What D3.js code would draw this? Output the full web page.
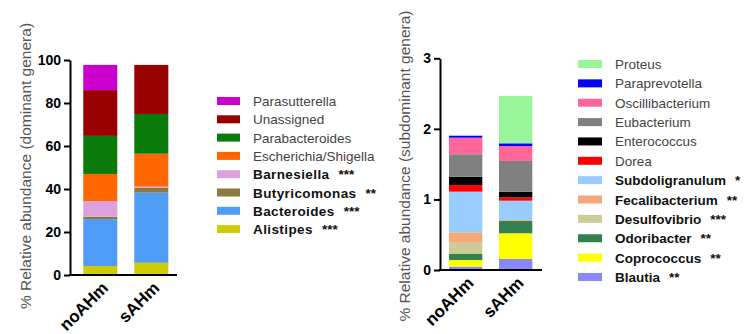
<!DOCTYPE html>
<html><head><meta charset="utf-8">
<script src="https://cdn.jsdelivr.net/npm/d3@7"></script>
<style>
body{margin:0;background:#fff;}
svg{display:block;font-family:"Liberation Sans",Arial,sans-serif;}
</style></head>
<body><svg id="c" width="750" height="334"></svg>
<script>
// ---- data ----
const categories = ["noAHm", "sAHm"];

// dominant genera, stacking order bottom -> top
const domGenera = ["Alistipes","Bacteroides","Butyricomonas","Barnesiella","Escherichia/Shigella","Parabacteroides","Unassigned","Parasutterella"];
const domNoAHm  = [4.2, 21.8, 1.1, 7.3, 12.6, 17.7, 21.3, 11.7];
const domSAHm   = [5.7, 32.6, 2.2, 0.6, 15.3, 18.5, 22.8, 0];
const domColors = ["#cccc00","#4f9cf7","#8c7a3c","#dda0dd","#ff6600","#0a7a0a","#990000","#cc00cc"];
const domStars  = ["***","***","**","***","","","",""];
const domTicks  = [0, 20, 40, 60, 80, 100];

// subdominant genera, stacking order bottom -> top
const subGenera = ["Blautia","Coprococcus","Odoribacter","Desulfovibrio","Fecalibacterium","Subdoligranulum","Dorea","Enterococcus","Eubacterium","Oscillibacterium","Paraprevotella","Proteus"];
const subNoAHm  = [0.047, 0.095, 0.085, 0.160, 0.147, 0.576, 0.094, 0.118, 0.318, 0.235, 0.028, 0];
const subSAHm   = [0.156, 0.364, 0.174, 0, 0.014, 0.274, 0.048, 0.080, 0.435, 0.212, 0.038, 0.671];
const subColors = ["#8888ff","#ffff00","#338050","#cccc99","#f2a878","#99ccff","#ff0000","#000000","#808080","#ff6699","#0000ff","#99f599"];
const subStars  = ["**","**","**","***","**","*","","","","","",""];
const subTicks  = [0, 1, 2, 3];

const yLabelDom = "% Relative abundance (dominant genera)";
const yLabelSub = "% Relative abundance (subdominant genera)";

const svg = d3.select("#c");

function panel(opt){
  const g = svg.append("g");
  const rows = categories.map((c,i)=>{
    const r = {cat:c};
    opt.genera.forEach((gname,j)=>{ r[gname] = opt.values[i][j]; });
    return r;
  });
  const stack = d3.stack().keys(opt.genera)(rows);
  const x = d3.scaleBand().domain(categories).range(opt.xRange).paddingInner(1/3).paddingOuter(opt.outer);
  const y = d3.scaleLinear().domain(opt.yDomain).range(opt.yRange);
  const color = d3.scaleOrdinal().domain(opt.genera).range(opt.colors);

  g.selectAll("g.layer").data(stack).join("g").attr("class","layer")
    .attr("fill", d=>color(d.key))
    .selectAll("rect").data(d=>d).join("rect")
    .attr("x", d=>x(d.data.cat))
    .attr("width", x.bandwidth())
    .attr("y", d=>y(d[1]))
    .attr("height", d=>Math.max(0, y(d[0]) - y(d[1])));

  // y axis
  const ya = g.append("g").attr("transform",`translate(${opt.axisX},0)`)
    .call(d3.axisLeft(y).tickValues(opt.ticks).tickSize(6).tickSizeOuter(0).tickPadding(3).tickFormat(d3.format("d")));
  ya.select(".domain").attr("stroke","#000").attr("stroke-width",2);
  ya.selectAll(".tick line").attr("stroke","#000").attr("stroke-width",2);
  ya.selectAll(".tick text").attr("font-size",14).attr("font-weight","bold").attr("fill","#000")
    .attr("font-family","'Liberation Sans',Arial,sans-serif");

  // x axis baseline
  g.append("line").attr("x1",opt.axisX-1).attr("x2",x.range()[1])
    .attr("y1",y(0)).attr("y2",y(0)).attr("stroke","#000").attr("stroke-width",2);

  // x labels
  g.selectAll("text.xl").data(categories).join("text").attr("class","xl")
    .attr("transform", d=>`translate(${x(d)+x.bandwidth()/2+9},${y(0)+14}) rotate(-45)`)
    .attr("text-anchor","end").attr("font-size",17).attr("font-weight","bold").attr("fill","#000")
    .text(d=>d);

  // y label
  g.append("text").attr("transform",`translate(${opt.labelX},166) rotate(-90)`)
    .attr("text-anchor","middle").attr("font-size",15.5).attr("fill","#555").text(opt.yLabel);

  // legend (top = last stacked)
  const leg = g.append("g");
  const items = opt.genera.map((gname,j)=>({name:gname,color:opt.colors[j],stars:opt.stars[j]})).reverse();
  const li = leg.selectAll("g").data(items).join("g")
    .attr("transform",(d,i)=>`translate(${opt.legX},${opt.legY0 + i*opt.legStep})`);
  li.append("rect").attr("x",0).attr("y",-4).attr("width",opt.swW).attr("height",8).attr("fill",d=>d.color);
  const t = li.append("text").attr("x",opt.textX).attr("y",5)
    .attr("font-size",13.5)
    .attr("font-weight",d=>d.stars?"bold":"normal")
    .attr("fill",d=>d.stars?"#111":"#444")
    .attr("letter-spacing",d=>d.stars?opt.boldLS:0);
  t.append("tspan").text(d=>d.name);
  t.append("tspan").attr("dx",9).attr("letter-spacing",0).text(d=>d.stars);
}

panel({genera:domGenera, values:[domNoAHm, domSAHm], colors:domColors, stars:domStars,
  xRange:[74.6,177], outer:0.17, yDomain:[0,100], yRange:[275,60], ticks:domTicks, axisX:70,
  labelX:31, yLabel:yLabelDom, legX:217, legY0:101, legStep:18.3, swW:23, textX:36, boldLS:0.4});

panel({genera:subGenera, values:[subNoAHm, subSAHm], colors:subColors, stars:subStars,
  xRange:[439.3,542], outer:0.194, yDomain:[0,3], yRange:[270,58.3], ticks:subTicks, axisX:440,
  labelX:410, yLabel:yLabelSub, legX:578, legY0:64, legStep:19.36, swW:24, textX:37, boldLS:0});
</script></body></html>
